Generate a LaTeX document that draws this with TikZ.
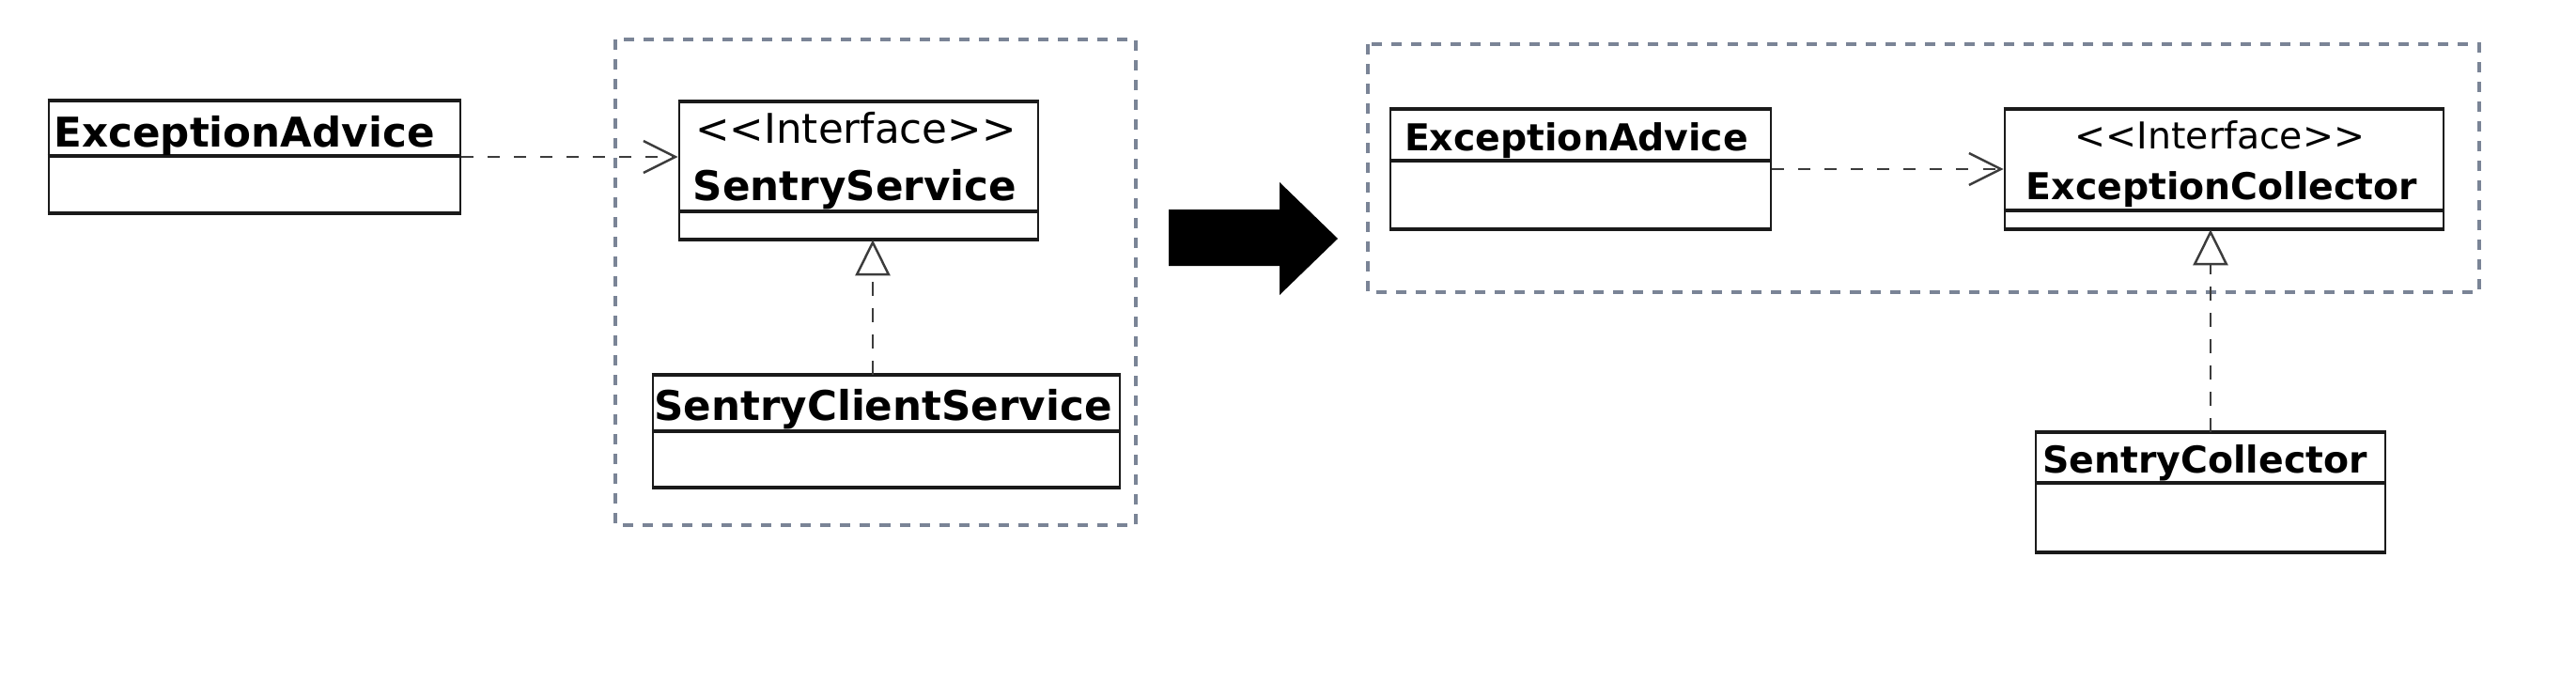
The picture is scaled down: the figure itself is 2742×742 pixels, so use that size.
\documentclass[tikz,border=0pt]{standalone}
\usepackage{fontspec}
\setmainfont{DejaVu Sans}
\usetikzlibrary{arrows.meta}
\definecolor{grp}{HTML}{7A8496}
\definecolor{ink}{HTML}{1A1A1A}
\begin{document}
\begin{tikzpicture}[x=0.01cm,y=-0.01cm,
  cls/.style={draw=ink, line width=0.7pt, inner sep=0pt, fill=white},
  hline/.style={draw=ink, line width=1.1pt},
  nameL/.style={font=\fontsize{12.4}{14}\selectfont\bfseries, inner sep=0pt, anchor=base},
  stereoL/.style={font=\fontsize{12.4}{14}\selectfont, inner sep=0pt, anchor=base},
  nameR/.style={font=\fontsize{11.2}{13}\selectfont\bfseries, inner sep=0pt, anchor=base},
  stereoR/.style={font=\fontsize{11.2}{13}\selectfont, inner sep=0pt, anchor=base},
  grpbox/.style={draw=grp, line width=0.9pt, dash pattern=on 0.11cm off 0.10cm},
  dep/.style={draw=ink!85, line width=0.8pt, dash pattern=on 0.13cm off 0.15cm,
    -{Straight Barb[length=0.34cm, width=0.34cm, line width=0.7pt]}},
  real/.style={draw=ink!85, line width=0.8pt, dash pattern=on 0.15cm off 0.13cm,
    -{Triangle[open, length=0.38cm, width=0.37cm, line width=0.7pt, fill=white]}},
]
\useasboundingbox (0,0) rectangle (2742,742);

% group frames
\draw[grpbox] (655,42) rectangle (1209,559);
\draw[grpbox] (1456,47) rectangle (2639,311);

% ---------- left diagram ----------
\node[cls, minimum width=4.38cm, minimum height=1.18cm] (ea1) at (271,167) {};
\draw[hline] (ea1.north west) -- (ea1.north east);
\draw[hline] (ea1.south west) -- (ea1.south east);
\draw[hline] ([yshift=-0.59cm]ea1.north west) -- ([yshift=-0.59cm]ea1.north east);
\node[nameL] (ea1t) at (260,156) {ExceptionAdvice};

\node[cls, minimum width=3.82cm, minimum height=1.45cm] (ss) at (914,181.5) {};
\draw[hline] (ss.north west) -- (ss.north east);
\draw[hline] (ss.south west) -- (ss.south east);
\draw[hline] ([yshift=-1.17cm]ss.north west) -- ([yshift=-1.17cm]ss.north east);
\node[stereoL] (sss) at (911,152) {<{}<Interface>{}>};
\node[nameL] (sst) at (910,213) {SentryService};

\node[cls, minimum width=4.97cm, minimum height=1.18cm] (scs) at (943.5,459) {};
\draw[hline] (scs.north west) -- (scs.north east);
\draw[hline] (scs.south west) -- (scs.south east);
\draw[hline] ([yshift=-0.60cm]scs.north west) -- ([yshift=-0.60cm]scs.north east);
\node[nameL] (scst) at (940,447) {SentryClientService};

\draw[dep] (ea1.east) -- (ea1.east -| ss.west);
\coordinate (r1) at (929,0);
\draw[real] (r1 |- scs.north) -- (r1 |- ss.south);

% ---------- big arrow ----------
\fill[black] (1244,223) -- (1362,223) -- (1362,194) -- (1424,254) -- (1362,314) -- (1362,283) -- (1244,283) -- cycle;

% ---------- right diagram ----------
\node[cls, minimum width=4.05cm, minimum height=1.26cm] (ea2) at (1682.5,180) {};
\draw[hline] (ea2.north west) -- (ea2.north east);
\draw[hline] (ea2.south west) -- (ea2.south east);
\draw[hline] ([yshift=-0.55cm]ea2.north west) -- ([yshift=-0.55cm]ea2.north east);
\node[nameR] (ea2t) at (1678,160) {ExceptionAdvice};

\node[cls, minimum width=4.67cm, minimum height=1.26cm] (ec) at (2367.5,180) {};
\draw[hline] (ec.north west) -- (ec.north east);
\draw[hline] (ec.south west) -- (ec.south east);
\draw[hline] ([yshift=-1.08cm]ec.north west) -- ([yshift=-1.08cm]ec.north east);
\node[stereoR] (ecs) at (2363,158) {<{}<Interface>{}>};
\node[nameR] (ect) at (2365,212) {ExceptionCollector};

\node[cls, minimum width=3.72cm, minimum height=1.26cm] (sc) at (2353,524) {};
\draw[hline] (sc.north west) -- (sc.north east);
\draw[hline] (sc.south west) -- (sc.south east);
\draw[hline] ([yshift=-0.54cm]sc.north west) -- ([yshift=-0.54cm]sc.north east);
\node[nameR] (sct) at (2347,503) {SentryCollector};

\draw[dep] (ea2.east) -- (ea2.east -| ec.west);
\draw[real] (sc.north) -- (sc.north |- ec.south);
\end{tikzpicture}
\end{document}
